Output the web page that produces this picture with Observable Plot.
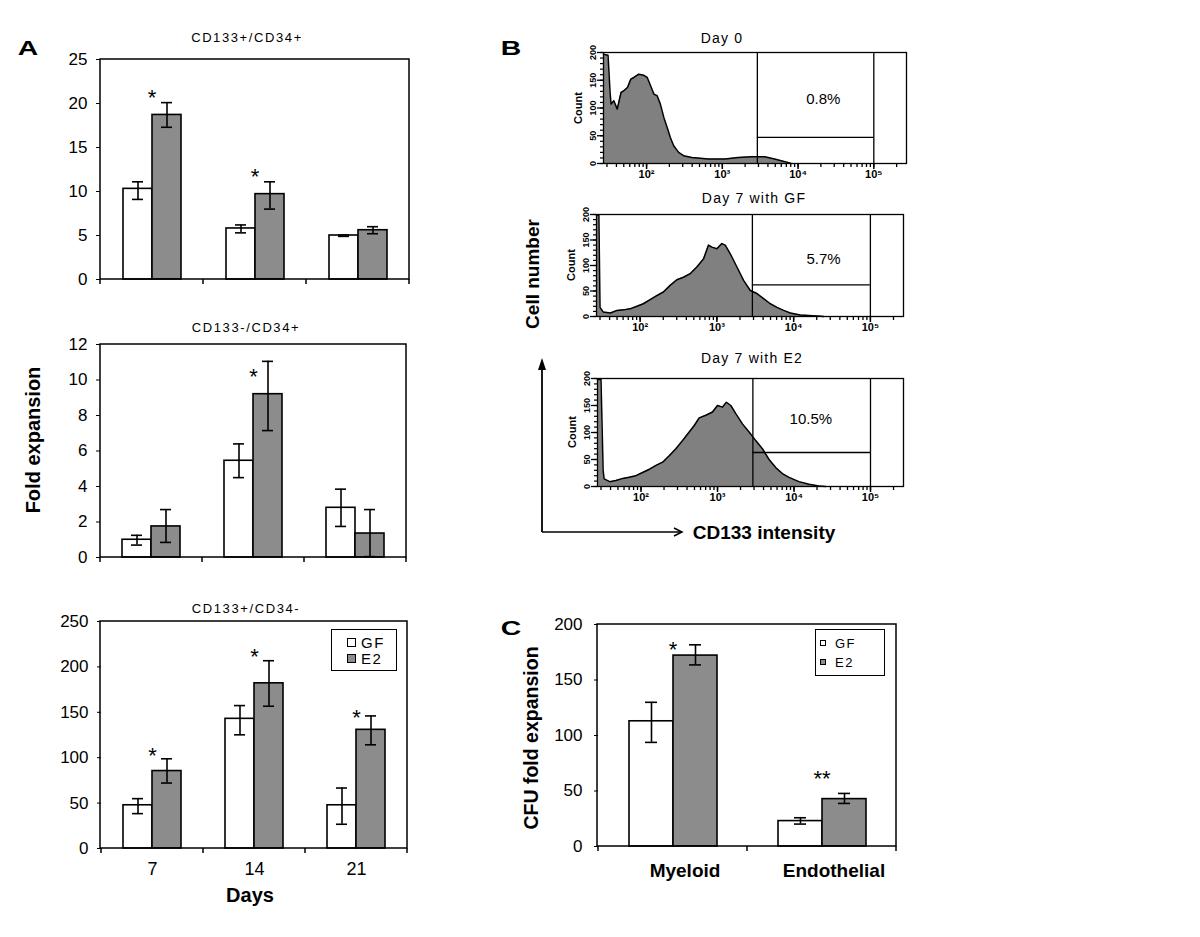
<!DOCTYPE html>
<html>
<head>
<meta charset="utf-8">
<script src="https://cdn.jsdelivr.net/npm/d3@7"></script>
<script src="https://cdn.jsdelivr.net/npm/@observablehq/plot@0.6"></script>
<style>
  body { margin: 0; background: #fff; }
  #fig { position: relative; width: 1200px; height: 937px; overflow: hidden; background: #fff;
         font-family: "Liberation Sans", Arial, Helvetica, sans-serif; color: #000; }
  #fig svg { position: absolute; overflow: visible; }
</style>
</head>
<body>
<div id="fig"></div>
<script>
// ---------------- DATA ----------------
const series = ["GF", "E2"];
const days = ["7", "14", "21"];

// Panel A, CD133+/CD34+
const a1Title = "CD133+/CD34+";
const a1GF = [10.3, 5.8, 5.0];
const a1GFlo = [9.1, 5.3, 4.9];
const a1GFhi = [11.1, 6.2, 5.05];
const a1E2 = [18.7, 9.7, 5.6];
const a1E2lo = [17.3, 8.0, 5.2];
const a1E2hi = [20.1, 11.1, 6.0];
const a1Stars = [21.3, 12.3, null];
const a1Ticks = [0, 5, 10, 15, 20, 25];

// Panel A, CD133-/CD34+
const a2Title = "CD133-/CD34+";
const a2GF = [1.0, 5.45, 2.8];
const a2GFlo = [0.7, 4.5, 1.75];
const a2GFhi = [1.25, 6.4, 3.85];
const a2E2 = [1.75, 9.2, 1.35];
const a2E2lo = [0.85, 7.15, 0.05];
const a2E2hi = [2.7, 11.05, 2.7];
const a2Stars = [null, 10.5, null];
const a2Ticks = [0, 2, 4, 6, 8, 10, 12];

// Panel A, CD133+/CD34-
const a3Title = "CD133+/CD34-";
const a3GF = [47.6, 142.8, 47.6];
const a3GFlo = [38.4, 125.2, 26.7];
const a3GFhi = [54.9, 157.4, 66.6];
const a3E2 = [85.3, 181.9, 130.7];
const a3E2lo = [72.1, 156.7, 114.2];
const a3E2hi = [98.8, 206.8, 146.0];
const a3Stars = [108, 218, 150];
const a3Ticks = [0, 50, 100, 150, 200, 250];

// Panel C
const cCats = ["Myeloid", "Endothelial"];
const cGF = [112.8, 22.9];
const cGFlo = [93.8, 20.2];
const cGFhi = [129.9, 25.9];
const cE2 = [172.0, 42.7];
const cE2lo = [163.6, 38.8];
const cE2hi = [181.7, 47.8];
const cStars = [182.6, 65.9];
const cStarText = ["*", "**"];
const cTicks = [0, 50, 100, 150, 200];

// Panel B histograms (CD133 intensity, cell count)
const day0Int = [27, 31, 33, 34, 37, 41, 46, 50, 56, 62, 68, 79, 92, 102, 113, 125, 138, 152, 169, 187, 206, 228, 265, 308, 396, 656, 1084, 1622, 2421, 3622, 4898, 5984, 7328, 8091];
const day0Cnt = [197, 195, 128, 107, 113, 98, 128, 131, 137, 152, 155, 161, 159, 155, 140, 125, 122, 107, 83, 65, 47, 32, 20, 14, 11, 8, 8, 11, 12, 12, 8, 5, 2, 0];
const gfInt = [27, 29, 30, 33, 41, 50, 61, 74, 91, 110, 135, 165, 201, 246, 301, 367, 449, 548, 670, 778, 861, 1000, 1161, 1285, 1493, 1824, 2228, 2723, 3327, 4064, 4966, 6067, 7413, 9057, 12218, 20137, 24604];
const gfCnt = [199, 199, 18, 9, 7, 12, 13, 15, 20, 25, 33, 41, 48, 61, 72, 77, 84, 97, 113, 140, 136, 133, 143, 140, 123, 97, 71, 51, 45, 35, 25, 18, 12, 7, 3, 1, 0];
const e2Int = [27, 30, 32, 33, 39, 47, 58, 70, 86, 105, 129, 157, 192, 234, 286, 349, 427, 497, 577, 705, 861, 1000, 1161, 1309, 1493, 1734, 2118, 2588, 3162, 3864, 4721, 5768, 7047, 8610, 11614, 15703, 21184, 25882];
const e2Cnt = [198, 198, 29, 14, 9, 11, 15, 17, 20, 26, 32, 39, 45, 57, 70, 85, 101, 113, 127, 132, 138, 150, 147, 156, 150, 135, 116, 101, 85, 70, 50, 35, 24, 17, 9, 4, 1, 0];
const histTitles = ["Day 0", "Day 7 with GF", "Day 7 with E2"];
const histPct = ["0.8%", "5.7%", "10.5%"];
const histPctX = [21500, 24500, 16600];
const histPctY = [115, 113, 124];
const histGate = [2900, 100000];
const histGateY = [47, 62, 63];
const countTicks = [0, 50, 100, 150, 200];
const logTickValues = [100, 1000, 10000, 100000];
const logTickLabels = ["10²", "10³", "10⁴", "10⁵"];

// ---------------- STYLE ----------------
const FONT = "'Liberation Sans', Arial, Helvetica, sans-serif";
const GREY_BAR = "#8c8c8c";
const GREY_HIST = "#808080";
const fig = document.getElementById("fig");

function addLabel(text, cx, cy, css = {}, extraTransform = "") {
  const d = document.createElement("div");
  d.textContent = text;
  Object.assign(d.style, {
    position: "absolute", left: cx + "px", top: cy + "px", whiteSpace: "nowrap",
    lineHeight: "1", fontFamily: FONT, transform: "translate(-50%,-50%) " + extraTransform
  }, css);
  fig.appendChild(d);
}

function placeSvg(svg, left, top) {
  svg.style.left = left + "px";
  svg.style.top = top + "px";
  fig.appendChild(svg);
}

function barChart(cfg) {
  const {cats, gf, gfLo, gfHi, e2, e2Lo, e2Hi, stars, starText, yTicks,
         frame, ml, mt, mr, mb, po, capInset, tickFont, tickPad,
         catLabels, catFont, catBold, catPad, catDx} = cfg;
  const rows = [];
  cats.forEach((c, i) => {
    rows.push({cat: c, s: series[0], v: gf[i], lo: gfLo[i], hi: gfHi[i]});
    rows.push({cat: c, s: series[1], v: e2[i], lo: e2Lo[i], hi: e2Hi[i]});
  });
  const starRows = cats.map((c, i) => ({cat: c, y: stars[i], t: starText ? starText[i] : "*"}))
                       .filter(d => d.y != null);
  const [x0, y0, x1, y1] = frame;
  const fw = x1 - x0, fh = y1 - y0;
  const marks = [
    Plot.barY(rows, {fx: "cat", x: "s", y: "v", fill: "s", stroke: "black", strokeWidth: 1.6, inset: 0}),
    Plot.ruleX(rows, {fx: "cat", x: "s", y1: "lo", y2: "hi", stroke: "black", strokeWidth: 1.6}),
    Plot.tickY(rows, {fx: "cat", x: "s", y: "lo", insetLeft: capInset, insetRight: capInset, stroke: "black", strokeWidth: 1.6}),
    Plot.tickY(rows, {fx: "cat", x: "s", y: "hi", insetLeft: capInset, insetRight: capInset, stroke: "black", strokeWidth: 1.6}),
    Plot.text(starRows, {fx: "cat", y: "y", text: "t", fontSize: 22, dy: 6}),
    Plot.axisY({ticks: yTicks, tickSize: 4, tickPadding: tickPad, fontSize: tickFont, label: null})
  ];
  if (catLabels) {
    marks.push(Plot.axisFx({anchor: "bottom", tickSize: 0, tickPadding: catPad, fontSize: catFont,
                            fontWeight: catBold ? "bold" : "normal", dx: catDx || 0, label: null}));
  }
  const plot = Plot.plot({
    width: fw + ml + mr, height: fh + mt + mb,
    marginLeft: ml, marginTop: mt, marginRight: mr, marginBottom: mb,
    style: {fontFamily: FONT, fontSize: tickFont + "px", color: "black", background: "transparent", overflow: "visible"},
    fx: catLabels ? {domain: cats, padding: 0} : {domain: cats, padding: 0, axis: null},
    x: {domain: series, paddingInner: 0, paddingOuter: po, axis: null},
    y: {domain: [yTicks[0], yTicks[yTicks.length - 1]], label: null},
    color: {domain: series, range: ["white", GREY_BAR]},
    marks
  });
  // plot frame and category-boundary ticks
  const svg = d3.select(plot);
  svg.append("rect").attr("x", ml).attr("y", mt).attr("width", fw).attr("height", fh)
     .attr("fill", "none").attr("stroke", "black").attr("stroke-width", 1.5);
  const fxs = plot.scale("fx");
  const bounds = cats.map(c => fxs.apply(c)).concat([ml + fw]);
  bounds.forEach(b => svg.append("line").attr("x1", b).attr("x2", b)
     .attr("y1", mt + fh).attr("y2", mt + fh + 5).attr("stroke", "black").attr("stroke-width", 1.5));
  placeSvg(plot, x0 - ml, y0 - mt);
}

const minorLog = [];
for (let k = 1; k <= 5; k++) for (let n = 1; n <= 9; n++) {
  const v = n * Math.pow(10, k);
  if (v >= 27 && v <= 270000) minorLog.push(v);
}
const countMinor = [];
for (let c = 0; c <= 200; c += 10) countMinor.push(c);

function histogram(idx, ints, cnts, frame) {
  const [x0, y0, x1, y1] = frame;
  const ml = 48, mt = 4, mr = 6, mb = 24;
  const data = ints.map((v, i) => ({v, c: cnts[i]}));
  const plot = Plot.plot({
    width: x1 - x0 + ml + mr, height: y1 - y0 + mt + mb,
    marginLeft: ml, marginTop: mt, marginRight: mr, marginBottom: mb,
    style: {fontFamily: FONT, fontSize: "9px", color: "black", background: "transparent", overflow: "visible"},
    x: {type: "log", domain: [27, 270000]},
    y: {domain: [0, 200]},
    marks: [
      Plot.areaY(data, {x: "v", y: "c", fill: GREY_HIST}),
      Plot.lineY(data, {x: "v", y: "c", stroke: "black", strokeWidth: 1.5}),
      Plot.ruleX(histGate, {stroke: "black", strokeWidth: 1.3}),
      Plot.ruleY([histGateY[idx]], {x1: histGate[0], x2: histGate[1], stroke: "black", strokeWidth: 1.3}),
      Plot.text([{x: histPctX[idx], y: histPctY[idx], t: histPct[idx]}], {x: "x", y: "y", text: "t", fontSize: 15}),
      Plot.frame({stroke: "black", strokeWidth: 1.3}),
      Plot.axisX({ticks: minorLog, tickFormat: () => "", tickSize: 4, strokeWidth: 1.3, label: null}),
      Plot.axisX({ticks: logTickValues, tickSize: 6, tickPadding: 1, strokeWidth: 1.5, fontSize: 11, fontWeight: "bold",
                  tickFormat: d => logTickLabels[logTickValues.indexOf(d)], label: null}),
      Plot.axisY({ticks: countMinor, tickFormat: () => "", tickSize: 3, strokeWidth: 1.2, label: null}),
      Plot.axisY({ticks: countTicks, tickSize: 6, tickPadding: 2, tickRotate: -90, fontSize: 9, fontWeight: "bold",
                  strokeWidth: 1.3, label: null})
    ]
  });
  placeSvg(plot, x0 - ml, y0 - mt);
  addLabel("Count", x0 - 25, (y0 + y1) / 2, {fontSize: "11px", fontWeight: "bold"}, "rotate(-90deg)");
}

// ---------------- PANEL A ----------------
barChart({cats: days, gf: a1GF, gfLo: a1GFlo, gfHi: a1GFhi, e2: a1E2, e2Lo: a1E2lo, e2Hi: a1E2hi,
  stars: a1Stars, yTicks: a1Ticks, frame: [100, 59, 409, 279], ml: 60, mt: 10, mr: 10, mb: 12,
  po: 0.745, capInset: 9, tickFont: 17, tickPad: 9});
barChart({cats: days, gf: a2GF, gfLo: a2GFlo, gfHi: a2GFhi, e2: a2E2, e2Lo: a2E2lo, e2Hi: a2E2hi,
  stars: a2Stars, yTicks: a2Ticks, frame: [100, 344, 406, 557], ml: 60, mt: 10, mr: 10, mb: 12,
  po: 0.745, capInset: 9, tickFont: 17, tickPad: 9});
barChart({cats: days, gf: a3GF, gfLo: a3GFlo, gfHi: a3GFhi, e2: a3E2, e2Lo: a3E2lo, e2Hi: a3E2hi,
  stars: a3Stars, yTicks: a3Ticks, frame: [100, 621, 407, 848], ml: 60, mt: 10, mr: 10, mb: 40,
  po: 0.745, capInset: 9, tickFont: 17, tickPad: 9, catLabels: true, catFont: 18, catBold: false, catPad: 14});

// ---------------- PANEL C ----------------
barChart({cats: cCats, gf: cGF, gfLo: cGFlo, gfHi: cGFhi, e2: cE2, e2Lo: cE2lo, e2Hi: cE2hi,
  stars: cStars, starText: cStarText, yTicks: cTicks, frame: [597, 624, 896, 846], ml: 75, mt: 10, mr: 10, mb: 45,
  po: 0.66, capInset: 16, tickFont: 17, tickPad: 12, catLabels: true, catFont: 19, catBold: true, catPad: 17, catDx: 12});

// ---------------- PANEL B ----------------
histogram(0, day0Int, day0Cnt, [603, 52, 906, 163]);
histogram(1, gfInt, gfCnt, [596, 214, 903, 316]);
histogram(2, e2Int, e2Cnt, [597, 378, 903, 486]);

// ---------------- TEXT ----------------
addLabel("A", 28, 47, {fontSize: "21px", fontWeight: "bold"}, "scaleX(1.35)");
addLabel("B", 511, 47, {fontSize: "21px", fontWeight: "bold"}, "scaleX(1.35)");
addLabel("C", 511, 627, {fontSize: "21px", fontWeight: "bold"}, "scaleX(1.35)");

const titleCss = {fontSize: "13px", letterSpacing: "1.6px"};
addLabel(a1Title, 247, 37, titleCss);
addLabel(a2Title, 246, 327, titleCss);
addLabel(a3Title, 246, 608, titleCss);
addLabel("Fold expansion", 33, 440, {fontSize: "20px", fontWeight: "bold"}, "rotate(-90deg)");
addLabel("Days", 250, 895, {fontSize: "20px", fontWeight: "bold"});

const htCss = {fontSize: "14px", letterSpacing: "1.2px"};
addLabel(histTitles[0], 722, 38, htCss);
addLabel(histTitles[1], 754, 198, htCss);
addLabel(histTitles[2], 752, 358, htCss);
addLabel("Cell number", 532, 274, {fontSize: "19px", fontWeight: "bold"}, "rotate(-90deg)");
addLabel("CD133 intensity", 764, 532, {fontSize: "19px", fontWeight: "bold"});
addLabel("CFU fold expansion", 532, 738, {fontSize: "19.5px", fontWeight: "bold"}, "rotate(-90deg)");

// axis arrows for panel B (decoration)
const arrow = d3.select(fig).append("svg").attr("width", 1200).attr("height", 937)
  .style("left", "0px").style("top", "0px").style("pointer-events", "none");
arrow.append("line").attr("x1", 542).attr("y1", 366).attr("x2", 542).attr("y2", 532).attr("stroke", "black").attr("stroke-width", 1.8);
arrow.append("path").attr("d", "M542,358 L538,370 L546,370 Z").attr("fill", "black");
arrow.append("line").attr("x1", 542).attr("y1", 532).attr("x2", 681).attr("y2", 532).attr("stroke", "black").attr("stroke-width", 1.5);
arrow.append("path").attr("d", "M674,528 L682,532 L674,536").attr("fill", "none").attr("stroke", "black").attr("stroke-width", 1.5);

// ---------------- LEGENDS ----------------
function addLegend(box, rowsY, swX, swSize, textX, fontSize) {
  const [bx0, by0, bx1, by1] = box;
  const b = document.createElement("div");
  Object.assign(b.style, {position: "absolute", left: bx0 + "px", top: by0 + "px",
    width: (bx1 - bx0) + "px", height: (by1 - by0) + "px", border: "1.5px solid black",
    boxSizing: "border-box", background: "white"});
  fig.appendChild(b);
  const fills = ["white", GREY_BAR];
  series.forEach((s, i) => {
    const sw = document.createElement("div");
    Object.assign(sw.style, {position: "absolute", left: swX + "px", top: (rowsY[i] - swSize / 2) + "px",
      width: swSize + "px", height: swSize + "px", border: "1.2px solid black", boxSizing: "border-box", background: fills[i]});
    fig.appendChild(sw);
    const t = document.createElement("div");
    t.textContent = s;
    Object.assign(t.style, {position: "absolute", left: textX + "px", top: rowsY[i] + "px",
      transform: "translateY(-50%)", fontSize: fontSize + "px", lineHeight: "1", fontFamily: FONT, letterSpacing: "1.5px"});
    fig.appendChild(t);
  });
}
addLegend([331, 629, 397, 671], [642, 658], 347, 9, 361, 15);
addLegend([815, 629, 885, 676], [643, 662], 820, 6, 835, 13);
</script>
</body>
</html>
